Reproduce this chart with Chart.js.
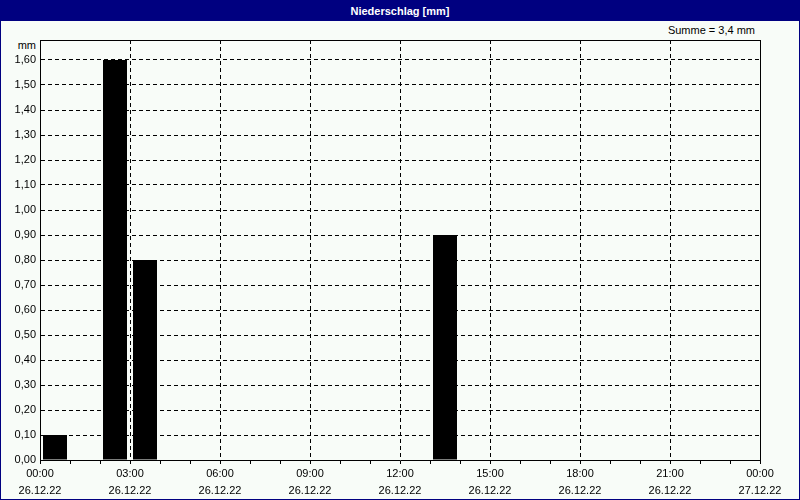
<!DOCTYPE html>
<html>
<head>
<meta charset="utf-8">
<script src="https://cdn.jsdelivr.net/npm/chart.js@4"></script>
<style>
  body { margin: 0; }
  #frame { position: relative; width: 800px; height: 500px; box-sizing: border-box;
    border: 1px solid #000080; background: #F8FCF8; font-family: "Liberation Sans", Arial, sans-serif; }
  #titleBar { position: absolute; left: 0; top: 0; width: 798px; height: 20px; background: #000080;
    color: #fff; font-weight: bold; font-size: 11px; line-height: 20px; text-align: center; }
  #sum { position: absolute; right: 44px; top: 23px; font-size: 11px; color: #000; }
  #unit { position: absolute; left: 0; width: 35px; top: 38px; text-align: right; font-size: 11px; color: #000; }
  #chartBox { position: absolute; left: -1px; top: -1px; width: 800px; height: 500px; }
</style>
</head>
<body>
<div id="frame">
  <div id="titleBar">Niederschlag [mm]</div>
  <div id="sum">Summe = 3,4 mm</div>
  <div id="unit">mm</div>
  <div id="chartBox"><canvas id="rainChart" width="800" height="500"></canvas></div>
</div>
<script>
// hourly rain, hour where the interval starts
const rainHours = [0, 2, 3, 13];
const rainValues = [0.1, 1.6, 0.8, 0.9];
const timeLabels = ["00:00", "03:00", "06:00", "09:00", "12:00", "15:00", "18:00", "21:00", "00:00"];
const dateLabels = ["26.12.22", "26.12.22", "26.12.22", "26.12.22", "26.12.22", "26.12.22", "26.12.22", "26.12.22", "27.12.22"];
const yMax = 1.68;

let points = [];
for (let i = 0; i < rainHours.length; i++) {
    points.push({ x: rainHours[i] + 0.5, y: rainValues[i] });
}

Chart.defaults.font.family = '"Liberation Sans", Arial, sans-serif';
Chart.defaults.font.size = 11;
Chart.defaults.color = '#000';

let ctx = document.getElementById('rainChart');
let chart = new Chart(ctx, {
    type: 'bar',
    data: {
        datasets: [{
            label: 'Niederschlag',
            data: points,
            backgroundColor: '#000',
            borderWidth: 0,
            barPercentage: 0.8,
            categoryPercentage: 1.0
        }]
    },
    options: {
        responsive: false,
        animation: false,
        layout: { padding: { left: 0, right: 40, top: 40, bottom: 0 } },
        plugins: { legend: { display: false }, tooltip: { enabled: false } },
        scales: {
            x: {
                type: 'linear',
                min: 0,
                max: 24,
                offset: false,
                afterFit: (s) => { s.height = 40; },
                ticks: {
                    stepSize: 1,
                    autoSkip: false,
                    maxRotation: 0,
                    padding: 1,
                    font: { size: 11, lineHeight: 1.55 },
                    callback: (v) => {
                        if (v % 3 !== 0) return '';
                        return [timeLabels[v / 3], dateLabels[v / 3]];
                    }
                },
                grid: {
                    offset: false,
                    color: (c) => (c.tick && c.tick.value % 3 === 0 && c.tick.value > 0 && c.tick.value < 24) ? '#000' : 'rgba(0,0,0,0)',
                    tickColor: '#000',
                    tickLength: 4,
                    tickBorderDash: []
                },
                border: { color: '#000', width: 1, dash: [4, 3] }
            },
            y: {
                min: 0,
                max: yMax,
                afterFit: (s) => { s.width = 40; },
                afterBuildTicks: (s) => {
                    s.ticks = s.ticks.filter(t => Math.abs(t.value * 10 - Math.round(t.value * 10)) < 1e-6);
                },
                ticks: {
                    stepSize: 0.1,
                    padding: 4,
                    callback: (v) => v.toFixed(2).replace('.', ',')
                },
                grid: {
                    drawTicks: false,
                    color: (c) => (c.tick && c.tick.value > 0) ? '#000' : 'rgba(0,0,0,0)'
                },
                border: { color: '#000', width: 1, dash: [4, 3] }
            },
            x2: {
                type: 'linear',
                position: 'top',
                min: 0,
                max: 24,
                afterFit: (s) => { s.height = 0; },
                ticks: { display: false },
                grid: { drawOnChartArea: false, drawTicks: false },
                border: { color: '#000', width: 1 }
            },
            y2: {
                position: 'right',
                min: 0,
                max: yMax,
                afterFit: (s) => { s.width = 0; },
                ticks: { display: false },
                grid: { drawOnChartArea: false, drawTicks: false },
                border: { color: '#000', width: 1 }
            }
        }
    }
});
</script>
</body>
</html>
